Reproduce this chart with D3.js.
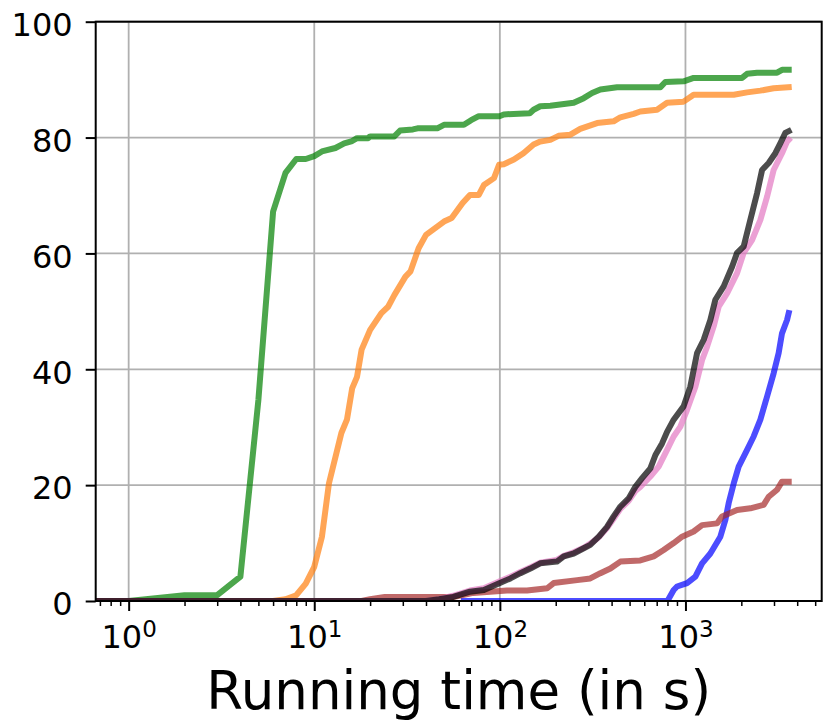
<!DOCTYPE html>
<html>
<head>
<meta charset="utf-8">
<script src="https://cdn.jsdelivr.net/npm/d3@7/dist/d3.min.js"></script>
<style>
	body { margin: 0; background: #fff; }
	svg text { font-family: 'DejaVu Sans', sans-serif; }
	.axis .domain { display: none; }
	.axis line { stroke: #000; stroke-width: 2; }
	.axis.minor line { stroke-width: 1.5; }
	.axis text { fill: #000; font-size: 32px; }
	.grid line { stroke: #b0b0b0; stroke-width: 1.8; }
	.series { fill: none; stroke-width: 6; stroke-opacity: 0.7; stroke-linejoin: round; stroke-linecap: square; }
</style>
</head>
<body>
<script>
'use strict';

// share of solved instances (%) against running time (s)
const green = [[0.5, 0], [1, 0], [2, 1], [3, 1], [4, 4.2], [5, 34.7], [6, 67.2], [7, 73.9], [8, 76.3], [9, 76.3],
	[10, 76.8], [11, 77.6], [13, 78.2], [14.5, 79.0], [16, 79.4], [17, 79.9], [19.5, 79.9], [20, 80.2], [27, 80.2],
	[29, 81.2], [34, 81.4], [36, 81.6], [46, 81.6], [50, 82.2], [64, 82.2], [70, 83.0], [77, 83.7], [100, 83.7],
	[105, 84.0], [145, 84.2], [152, 84.8], [165, 85.4], [187, 85.5], [250, 86.0], [283, 86.8], [314, 87.7],
	[348, 88.3], [428, 88.7], [733, 88.7], [779, 89.6], [978, 89.7], [1107, 90.3], [2018, 90.3], [2148, 91.0],
	[2431, 91.2], [3116, 91.2], [3315, 91.7], [3600, 91.7]];
const orange = [[0.5, 0], [6, 0], [7, 0.3], [8, 1.0], [9, 3.0], [10, 5.9], [11, 11.1], [12, 20.3], [14, 29.0],
	[15, 31.3], [16, 36.7], [17, 38.7], [18, 43.4], [20, 46.8], [23, 49.7], [25, 50.8], [27, 52.8], [31, 56.0],
	[33, 56.9], [36.5, 60.9], [40, 63.2], [45, 64.4], [50, 65.5], [55, 66.1], [63, 68.7], [69, 70.1], [77, 70.1],
	[82, 71.8], [93, 73.0], [99, 75.3], [105, 75.4], [119, 76.2], [134, 77.3], [152, 78.8], [165, 79.3], [187, 79.6],
	[207, 80.3], [240, 80.5], [271, 81.5], [334, 82.5], [410, 82.8], [446, 83.5], [526, 84.1], [571, 84.5],
	[703, 84.8], [796, 86.0], [977, 86.2], [1107, 87.4], [1820, 87.4], [2148, 87.8], [2533, 88.1], [2986, 88.5],
	[3600, 88.7]];
const pink = [[0.5, 0], [40, 0], [47, 0.3], [56, 0.9], [69, 1.8], [82, 2.2], [100, 3.4], [114, 4.2], [129, 5.0],
	[146, 5.8], [165, 6.6], [203, 7.1], [221, 7.8], [250, 8.4], [283, 9.2], [307, 9.9], [341, 11.0], [378, 12.6],
	[410, 14.2], [446, 15.9], [494, 17.3], [537, 19.0], [571, 19.7], [647, 21.5], [717, 23.2], [796, 26.1],
	[864, 28.4], [939, 30.1], [1020, 33.0], [1131, 37.0], [1229, 41.6], [1308, 43.9], [1419, 47.4], [1510, 50.8],
	[1675, 53.1], [1897, 56.6], [2059, 60.1], [2285, 62.3], [2533, 65.8], [2753, 69.8], [2986, 74.4], [3313, 77.3],
	[3526, 79.3], [3600, 79.6]];
const black = [[0.5, 0], [40, 0], [47, 0.3], [56, 0.7], [69, 1.6], [82, 1.9], [100, 3.1], [114, 3.9], [129, 4.8],
	[146, 5.6], [165, 6.5], [203, 6.8], [221, 7.7], [250, 8.2], [283, 9.1], [307, 9.7], [341, 11.1], [378, 12.8],
	[410, 14.6], [446, 16.3], [494, 17.7], [537, 19.7], [584, 21.2], [647, 22.9], [689, 25.2], [748, 27.2],
	[796, 29.2], [864, 31.3], [977, 33.6], [1062, 37.0], [1155, 42.8], [1254, 45.1], [1362, 48.5], [1449, 52.0],
	[1607, 54.3], [1783, 57.7], [1897, 60.1], [2059, 61.2], [2237, 65.8], [2431, 70.4], [2587, 74.4], [2808, 75.6],
	[3050, 77.3], [3243, 79.0], [3450, 80.8], [3600, 81.1]];
const blue = [[64, 0], [800, 0], [864, 1.9], [901, 2.5], [1020, 3.1], [1131, 4.2], [1229, 6.5], [1362, 8.2],
	[1542, 11.1], [1641, 14.0], [1710, 16.9], [1820, 20.3], [1935, 23.2], [2148, 26.1], [2331, 28.4], [2533, 31.3],
	[2753, 35.3], [2986, 39.3], [3178, 42.8], [3313, 46.2], [3526, 48.5], [3600, 49.7]];
const brown = [[0.5, 0], [18, 0], [20, 0.3], [24, 0.7], [56, 0.7], [72, 1.4], [109, 1.8], [140, 1.8], [180, 2.2],
	[195, 3.1], [261, 3.6], [307, 3.9], [348, 4.8], [394, 5.6], [446, 6.8], [571, 7.0], [674, 7.7], [763, 8.8],
	[864, 10.0], [959, 11.1], [1107, 12.0], [1229, 13.1], [1481, 13.4], [1575, 14.6], [1897, 15.7], [2237, 16.0],
	[2638, 16.6], [2808, 18.0], [3116, 19.2], [3313, 20.6], [3600, 20.6]];

const series = [green, orange, blue, brown, pink, black];
const colors = ['#008000', '#ff7f0e', '#0000ff', '#a52a2a', '#e377c2', '#000000'];

const xMajor = [1, 10, 100, 1000];
const xMinor = [0.7, 0.8, 0.9, 2, 3, 4, 5, 6, 7, 8, 9, 20, 30, 40, 50, 60, 70, 80, 90,
	200, 300, 400, 500, 600, 700, 800, 900, 2000, 3000, 4000, 5000];
const yTicks = [0, 20, 40, 60, 80, 100];
const xDomain = [0.6644, 5421];
const xLabel = 'Running time (in s)';

const W = 830, H = 727,
	margin = { top: 21.7, right: 8.3, bottom: 126, left: 95.7 },
	width = W - margin.left - margin.right,
	height = H - margin.top - margin.bottom;

const svg = d3.select('body').append('svg')
	.attr('width', W)
	.attr('height', H);

const g = svg.append('g')
	.attr('transform', `translate(${margin.left},${margin.top})`);

const x = d3.scaleLog().domain(xDomain).range([0, width]),
	y = d3.scaleLinear().domain([0, 100]).range([height, 0]);

svg.append('defs').append('clipPath')
	.attr('id', 'plot-clip')
	.append('rect')
		.attr('width', width)
		.attr('height', height);

// grid
g.append('g')
	.attr('class', 'grid')
	.selectAll('line').data(xMajor).enter().append('line')
		.attr('x1', d => x(d)).attr('x2', d => x(d))
		.attr('y1', 0).attr('y2', height);
g.append('g')
	.attr('class', 'grid')
	.selectAll('line').data(yTicks).enter().append('line')
		.attr('x1', 0).attr('x2', width)
		.attr('y1', d => y(d)).attr('y2', d => y(d));

const line = d3.line()
	.x(d => x(d[0]))
	.y(d => y(d[1]));

g.append('g')
	.attr('clip-path', 'url(#plot-clip)')
	.selectAll('path').data(series).enter().append('path')
		.attr('class', 'series')
		.attr('stroke', (d, i) => colors[i])
		.attr('d', line);

// spines
g.append('rect')
	.attr('width', width)
	.attr('height', height)
	.attr('fill', 'none')
	.attr('stroke', '#000')
	.attr('stroke-width', 2);

g.append('g')
	.attr('class', 'axis minor')
	.attr('transform', `translate(0,${height})`)
	.call(d3.axisBottom(x).tickValues(xMinor).tickSize(5).tickFormat(''));

const xAxis = g.append('g')
	.attr('class', 'axis')
	.attr('transform', `translate(0,${height})`)
	.call(d3.axisBottom(x).tickValues(xMajor).tickSize(10).tickPadding(14)
		.tickFormat(() => '10'));
xAxis.selectAll('.tick text')
	.append('tspan')
		.attr('font-size', '23px')
		.attr('dy', '-0.48em')
		.text(d => Math.round(Math.log10(d)));

g.append('g')
	.attr('class', 'axis')
	.call(d3.axisLeft(y).tickValues(yTicks).tickSize(10).tickPadding(13))
	.selectAll('text')
		.attr('dy', '0.43em');

g.append('text')
	.attr('x', width / 2)
	.attr('y', height + 108)
	.attr('text-anchor', 'middle')
	.attr('font-size', '53px')
	.attr('fill', '#000')
	.text(xLabel);
</script>
</body>
</html>
